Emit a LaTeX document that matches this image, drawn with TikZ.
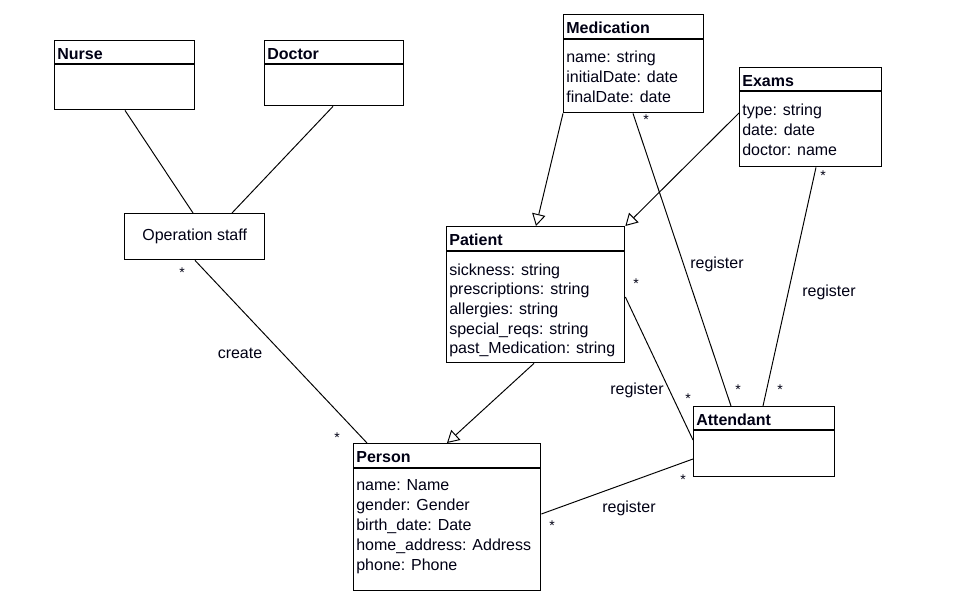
\documentclass[tikz,border=0pt]{standalone}
\usepackage{fontspec}
\setmainfont{Liberation Sans}
\usepackage{tikz}
\usetikzlibrary{calc,arrows.meta}

\begin{document}
\begin{tikzpicture}[x=0.02cm, y=-0.02cm,
        every node/.style={font=\fontsize{9.1}{11}\selectfont, text=black!92!blue},
        box/.style={draw, line width=0.8pt, anchor=north west, inner sep=0pt, text=black},
        title/.style={anchor=base west, inner sep=0pt, font=\fontsize{9.1}{11}\selectfont\bfseries},
        attr/.style={anchor=base west, inner sep=0pt},
        link/.style={line width=0.55pt},
        inherit/.style={link, -{Triangle[open, length=0.24cm, width=0.27cm]}},
        mult/.style={inner sep=0pt, font=\fontsize{8}{9}\selectfont}]
    \useasboundingbox (0,0) rectangle (965,597);

    % classes
    \node [box, minimum width=2.8cm, minimum height=1.38cm] (nurse) at (54,40) {};
    \draw [line width=0.8pt] ($(nurse.north west)+(0,24)$) -- ($(nurse.north east)+(0,24)$);
    \node [title] (nurse-t) at ($(nurse.north west)+(3,20)$) {Nurse};

    \node [box, minimum width=2.78cm, minimum height=1.3cm] (doctor) at (264,40) {};
    \draw [line width=0.8pt] ($(doctor.north west)+(0,24)$) -- ($(doctor.north east)+(0,24)$);
    \node [title] (doctor-t) at ($(doctor.north west)+(3,20)$) {Doctor};

    \node [box, minimum width=2.8cm, minimum height=0.92cm] (ops) at (124,213) {};
    \node (ops-t) at (ops.center) {Operation staff};

    \node [box, minimum width=2.8cm, minimum height=1.96cm] (med) at (563,14) {};
    \draw [line width=0.8pt] ($(med.north west)+(0,25)$) -- ($(med.north east)+(0,25)$);
    \node [title] (med-t) at ($(med.north west)+(3,20)$) {Medication};
    \foreach \t [count=\i] in {name: string, initialDate: date, finalDate: date}
        \node [attr] (med-\i) at ($(med.north west)+(3,29+20*\i)$) {\t};

    \node [box, minimum width=2.84cm, minimum height=1.98cm] (exams) at (739,67) {};
    \draw [line width=0.8pt] ($(exams.north west)+(0,24)$) -- ($(exams.north east)+(0,24)$);
    \node [title] (exams-t) at ($(exams.north west)+(3,20)$) {Exams};
    \foreach \t [count=\i] in {type: string, date: date, doctor: name}
        \node [attr] (exams-\i) at ($(exams.north west)+(3,29+20*\i)$) {\t};

    \node [box, minimum width=3.56cm, minimum height=2.72cm] (patient) at (446,226) {};
    \draw [line width=0.8pt] ($(patient.north west)+(0,25)$) -- ($(patient.north east)+(0,25)$);
    \node [title] (patient-t) at ($(patient.north west)+(3,20)$) {Patient};
    \foreach \t [count=\i] in {sickness: string, prescriptions: string, allergies: string,
                               special\_reqs: string, past\_Medication: string}
        \node [attr] (patient-\i) at ($(patient.north west)+(3,29.5+19.7*\i)$) {\t};

    \node [box, minimum width=3.74cm, minimum height=2.94cm] (person) at (353,443) {};
    \draw [line width=0.8pt] ($(person.north west)+(0,25)$) -- ($(person.north east)+(0,25)$);
    \node [title] (person-t) at ($(person.north west)+(3,20)$) {Person};
    \foreach \t [count=\i] in {name: Name, gender: Gender, birth\_date: Date,
                               home\_address: Address, phone: Phone}
        \node [attr] (person-\i) at ($(person.north west)+(3,28+20*\i)$) {\t};

    \node [box, minimum width=2.82cm, minimum height=1.4cm] (att) at (693,406) {};
    \draw [line width=0.8pt] ($(att.north west)+(0,24)$) -- ($(att.north east)+(0,24)$);
    \node [title] (att-t) at ($(att.north west)+(3,20)$) {Attendant};

    % links
    \draw [link] ($(nurse.south west)+(71,0)$) -- ($(ops.north west)+(69,0)$);
    \draw [link] ($(doctor.south west)+(69,0)$) -- ($(ops.north west)+(108,0)$);
    \draw [link] ($(ops.south west)+(71,0)$) -- ($(person.north west)+(14,0)$);
    \draw [inherit] (med.south west) -- ($(patient.north west)+(90,0)$);
    \draw [inherit] ($(exams.north west)+(0,46)$) -- (patient.north east);
    \draw [inherit] ($(patient.south west)+(88,0)$) -- ($(person.north west)+(94,0)$);
    \draw [link] ($(med.south west)+(70,0)$) -- ($(att.north west)+(38,0)$);
    \draw [link] ($(exams.south west)+(77,0)$) -- ($(att.north west)+(70,0)$);
    \draw [link] ($(patient.north east)+(0,71)$) -- ($(att.north west)+(0,34)$);
    \draw [link] ($(person.north east)+(0,71)$) -- ($(att.north west)+(0,53)$);

    % labels
    \node (create) at (240,353) {create};
    \node (reg-med) at (717,264) {register};
    \node (reg-exams) at (829,292) {register};
    \node (reg-patient) at (637,390) {register};
    \node (reg-person) at (629,508) {register};

    \node [mult] (m1) at (182,273) {*};
    \node [mult] (m2) at (337,438) {*};
    \node [mult] (m3) at (646,120) {*};
    \node [mult] (m4) at (738,390) {*};
    \node [mult] (m5) at (823,176) {*};
    \node [mult] (m6) at (780,390) {*};
    \node [mult] (m7) at (636,284) {*};
    \node [mult] (m8) at (688,399) {*};
    \node [mult] (m9) at (683,480) {*};
    \node [mult] (m10) at (552,526) {*};
\end{tikzpicture}
\end{document}
